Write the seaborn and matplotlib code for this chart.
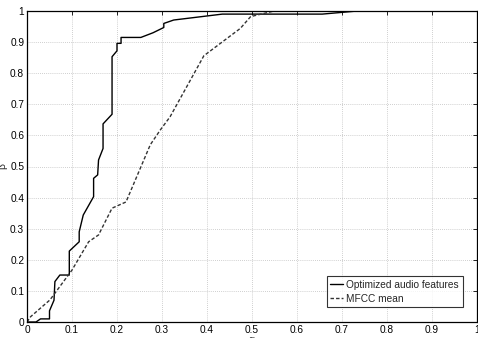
import matplotlib
matplotlib.use("Agg")
import matplotlib.pyplot as plt
import seaborn as sns
import pandas as pd

opt_x = [0, 0.02, 0.03, 0.05, 0.05, 0.06, 0.062, 0.073, 0.094, 0.094, 0.116, 0.116,
         0.125, 0.148, 0.148, 0.157, 0.159, 0.169, 0.169, 0.189, 0.189, 0.2, 0.2,
         0.209, 0.209, 0.253, 0.28, 0.304, 0.304, 0.326, 0.434, 0.656, 0.734, 1.0]
opt_y = [0, 0, 0.01, 0.01, 0.036, 0.07, 0.13, 0.151, 0.151, 0.228, 0.258, 0.29,
         0.344, 0.403, 0.462, 0.473, 0.521, 0.558, 0.637, 0.668, 0.853, 0.872, 0.896,
         0.896, 0.915, 0.915, 0.93, 0.947, 0.96, 0.971, 0.99, 0.99, 1.0, 1.0]

mfcc_x = [0, 0.008, 0.051, 0.1, 0.137, 0.159, 0.189, 0.22, 0.274, 0.296, 0.318,
          0.393, 0.474, 0.497, 0.549, 1.0]
mfcc_y = [0, 0.017, 0.071, 0.167, 0.258, 0.28, 0.366, 0.386, 0.57, 0.617, 0.66,
          0.856, 0.944, 0.982, 1.0, 1.0]

labels = ["Optimized audio features", "MFCC mean"]
ticks = [0, 0.1, 0.2, 0.3, 0.4, 0.5, 0.6, 0.7, 0.8, 0.9, 1]
tick_labels = ["0", "0.1", "0.2", "0.3", "0.4", "0.5", "0.6", "0.7", "0.8", "0.9", "1"]

sns.set_style("white")
plt.rcParams['font.family'] = ['Liberation Sans', 'DejaVu Sans']

fig = plt.figure(figsize=(4.78, 3.38), dpi=100)
ax = fig.add_axes([27/478, 1 - 322/338, 450/478, 311/338])

df1 = pd.DataFrame({"x": opt_x, "y": opt_y})
df2 = pd.DataFrame({"x": mfcc_x, "y": mfcc_y})
sns.lineplot(data=df1, x="x", y="y", ax=ax, color="black", linewidth=1.0,
             sort=False, estimator=None, label=labels[0])
sns.lineplot(data=df2, x="x", y="y", ax=ax, color="#333333", linewidth=1.0,
             linestyle=(0, (2.5, 1.5)), sort=False, estimator=None, label=labels[1])

ax.set_xlim(0, 1)
ax.set_ylim(0, 1)
ax.set_xticks(ticks)
ax.set_yticks(ticks)
ax.set_xticklabels(tick_labels, fontsize=7.3)
ax.set_yticklabels(tick_labels, fontsize=7.3)
ax.grid(True, color="#c0c0c0", linestyle=(0, (1, 1.5)), linewidth=0.6)
ax.tick_params(direction="in", length=3, width=0.6, top=True, right=True, pad=2,
               colors="black")
for s in ax.spines.values():
    s.set_color("black")
    s.set_linewidth(0.9)
ax.set_xlabel("α", fontsize=7.3, labelpad=0)
ax.set_ylabel("β", fontsize=7.3, labelpad=2)

leg = ax.legend(loc="lower right", fontsize=7.3, frameon=True, fancybox=False,
                handlelength=1.3, handletextpad=0.3, borderpad=0.35,
                labelspacing=0.35, borderaxespad=0,
                bbox_to_anchor=(0.968, 0.048))
leg.get_frame().set_edgecolor("black")
leg.get_frame().set_linewidth(0.8)

fig.savefig("out.png", dpi=100)
